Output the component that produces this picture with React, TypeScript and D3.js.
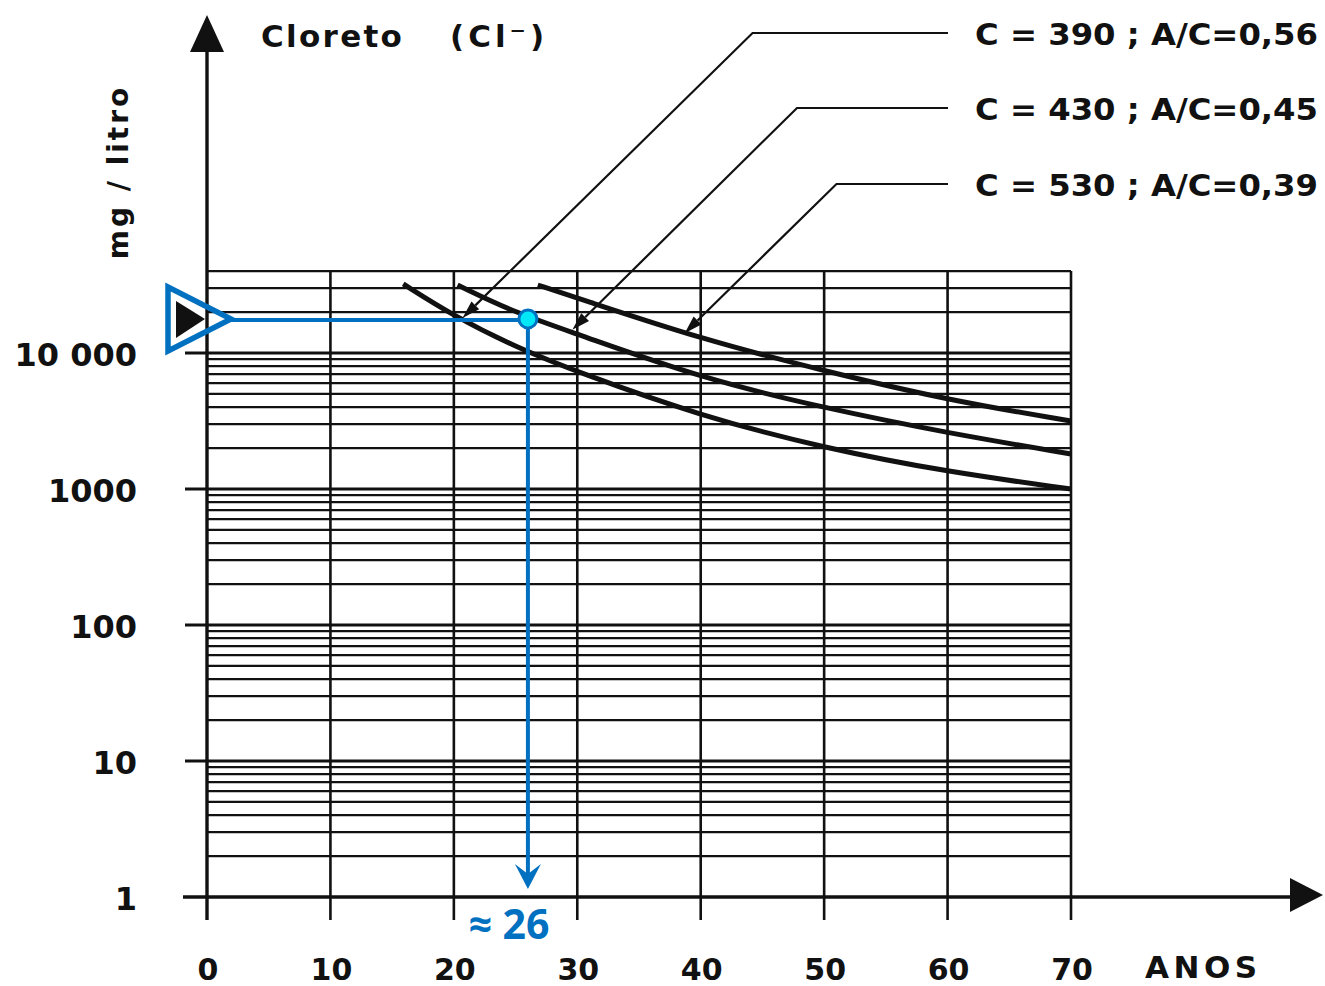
import React from 'react';
import * as d3 from 'd3';

const W = 1325;
const H = 986;

// eixo X (anos) e eixo Y (mg / litro, log)
const xTicks = [0, 10, 20, 30, 40, 50, 60, 70];
const yTicks = [1, 10, 100, 1000, 10000];
const yTickLabels = ['1', '10', '100', '1000', '10 000'];
const yTop = 40000;

// curvas de cloreto
const years390 = [15.9, 20, 25, 30, 40, 50, 60, 70];
const cl390 = [32200, 18700, 11070, 7250, 3440, 2000, 1334, 1000];
const years430 = [20.3, 25, 30, 40, 50, 60, 70];
const cl430 = [31600, 19700, 13800, 6550, 3940, 2580, 1810];
const years530 = [26.8, 30, 40, 50, 60, 70];
const cl530 = [31600, 25400, 12700, 7380, 4510, 3160];

// rótulos com linhas de chamada
const leaderLabels = ['C = 390 ; A/C=0,56', 'C = 430 ; A/C=0,45', 'C = 530 ; A/C=0,39'];
const leaderElbowYears = [44.2, 47.8, 51.0];
const leaderTipYears = [20.7, 29.6, 38.7];
const leaderTipValues = [18100, 14800, 14000];

// leitura destacada em azul
const readingYear = 26;
const readingValue = 17800;
const readingLabel = '≈ 26';

const BLUE = '#0070C0';
const INK = '#111';
const FONT = '"DejaVu Sans", sans-serif';

export default function App() {
  const x = d3.scaleLinear().domain([0, 70]).range([207, 1071]);
  const y = d3.scaleLog().domain([1, yTop]).range([897, 897 - 136 * Math.log10(yTop)]);

  const gridValues: number[] = [];
  yTicks.forEach(d => {
    for (let m = 1; m <= 9; m++) {
      const v = d * m;
      if (v > 1 && v < yTop) gridValues.push(v);
    }
  });
  gridValues.push(yTop);

  const line = d3.line<[number, number]>()
    .x(d => x(d[0]))
    .y(d => y(d[1]))
    .curve(d3.curveBasis);

  const series = [
    years390.map((t, i) => [t, cl390[i]] as [number, number]),
    years430.map((t, i) => [t, cl430[i]] as [number, number]),
    years530.map((t, i) => [t, cl530[i]] as [number, number]),
  ];

  const rowY = [33, 108, 184];
  const lineEndX = 948;
  const labelX = 975;

  const x0 = x(0);
  const xEnd = x(70);
  const yBase = y(1);
  const yGridTop = y(yTop);

  const rx = x(readingYear);
  const ry = y(readingValue);

  return (
    <div style={{ position: 'absolute', left: 0, top: 0, width: W, height: H, background: '#fff' }}>
      <svg width={W} height={H} style={{ display: 'block' }}>
        <rect width={W} height={H} fill="#fff" />

        {/* linhas horizontais da grade */}
        {gridValues.map(v => {
          const major = yTicks.includes(v);
          return (
            <line key={'h' + v}
              x1={major ? 185 : x0} x2={xEnd}
              y1={y(v)} y2={y(v)}
              stroke={INK} strokeWidth={major ? 3 : 2.3} />
          );
        })}

        {/* linhas verticais da grade */}
        {xTicks.filter(t => t > 0).map(t => (
          <line key={'v' + t} x1={x(t)} x2={x(t)} y1={yGridTop} y2={yBase + 23}
            stroke={INK} strokeWidth={2.6} />
        ))}

        {/* eixos */}
        <line x1={x0} x2={x0} y1={yBase + 23} y2={50} stroke={INK} strokeWidth={3.4} />
        <polygon points={`${x0},15 ${x0 - 17},52 ${x0 + 17},52`} fill={INK} />
        <line x1={183} x2={1292} y1={yBase} y2={yBase} stroke={INK} strokeWidth={3.4} />
        <polygon points={`1323,${yBase - 2} 1290,${yBase - 19} 1290,${yBase + 15}`} fill={INK} />

        {/* curvas */}
        {series.map((s, i) => (
          <path key={'c' + i} d={line(s) || ''} fill="none" stroke={INK} strokeWidth={5} />
        ))}

        {/* linhas de chamada */}
        {leaderLabels.map((lab, i) => {
          const ex = x(leaderElbowYears[i]);
          const ey = rowY[i];
          const tx = x(leaderTipYears[i]);
          const ty = y(leaderTipValues[i]);
          const dx = tx - ex, dy = ty - ey;
          const len = Math.hypot(dx, dy);
          const ux = dx / len, uy = dy / len;
          const bx = tx - ux * 18, by = ty - uy * 18;
          const px = -uy * 5.5, py = ux * 5.5;
          return (
            <g key={'l' + i}>
              <polyline points={`${lineEndX},${ey} ${ex},${ey} ${bx},${by}`}
                fill="none" stroke={INK} strokeWidth={2.2} />
              <polygon points={`${tx},${ty} ${bx + px},${by + py} ${bx - px},${by - py}`} fill={INK} />
              <text x={labelX} y={ey + 12} fontFamily={FONT} fontWeight="bold" fontSize={31}
                fill={INK} textLength={343} lengthAdjust="spacingAndGlyphs">{lab}</text>
            </g>
          );
        })}

        {/* títulos */}
        <text x={261} y={47} fontFamily={FONT} fontWeight="bold" fontSize={31} letterSpacing={2.3} fill={INK}>
          Cloreto
        </text>
        <text x={450} y={47} fontFamily={FONT} fontWeight="bold" fontSize={31} letterSpacing={4} fill={INK}>
          (Cl⁻)
        </text>
        <text transform="translate(128,172) rotate(-90)" textAnchor="middle" fontFamily={FONT}
          fontWeight="bold" fontSize={28} letterSpacing={3} fill={INK}>
          mg / litro
        </text>

        {/* rótulos dos eixos */}
        {yTicks.map((v, i) => (
          <text key={'yl' + v} x={137} y={y(v) + 13} textAnchor="end" fontFamily={FONT}
            fontWeight="bold" fontSize={32} fill={INK}>{yTickLabels[i]}</text>
        ))}
        {xTicks.map(t => (
          <text key={'xl' + t} x={x(t) + 1} y={980} textAnchor="middle" fontFamily={FONT}
            fontWeight="bold" fontSize={30} fill={INK}>{t}</text>
        ))}
        <text x={1145} y={978} fontFamily={FONT} fontWeight="bold" fontSize={31} letterSpacing={4.5} fill={INK}>
          ANOS
        </text>

        {/* leitura em azul */}
        <polygon points={`176,${ry - 18} 176,${ry + 19} 205,${ry}`} fill={INK} />
        <polygon points={`168,${ry - 32} 168,${ry + 32} 231,${ry}`} fill="none"
          stroke={BLUE} strokeWidth={5.5} strokeLinejoin="miter" />
        <line x1={231} x2={rx} y1={ry + 1} y2={ry + 1} stroke={BLUE} strokeWidth={4} />
        <line x1={rx} x2={rx} y1={ry} y2={yBase - 22} stroke={BLUE} strokeWidth={4} />
        <polygon points={`${rx},${yBase - 8} ${rx - 13},${yBase - 33} ${rx},${yBase - 23} ${rx + 13},${yBase - 33}`}
          fill={BLUE} />
        <circle cx={rx} cy={ry} r={9} fill="#00E8F8" stroke={BLUE} strokeWidth={3} />
        <text x={rx - 19} y={939} textAnchor="middle" fontFamily='"Open Sans", sans-serif'
          fontWeight="bold" fontSize={41} fill={BLUE}>{readingLabel}</text>
      </svg>
    </div>
  );
}
